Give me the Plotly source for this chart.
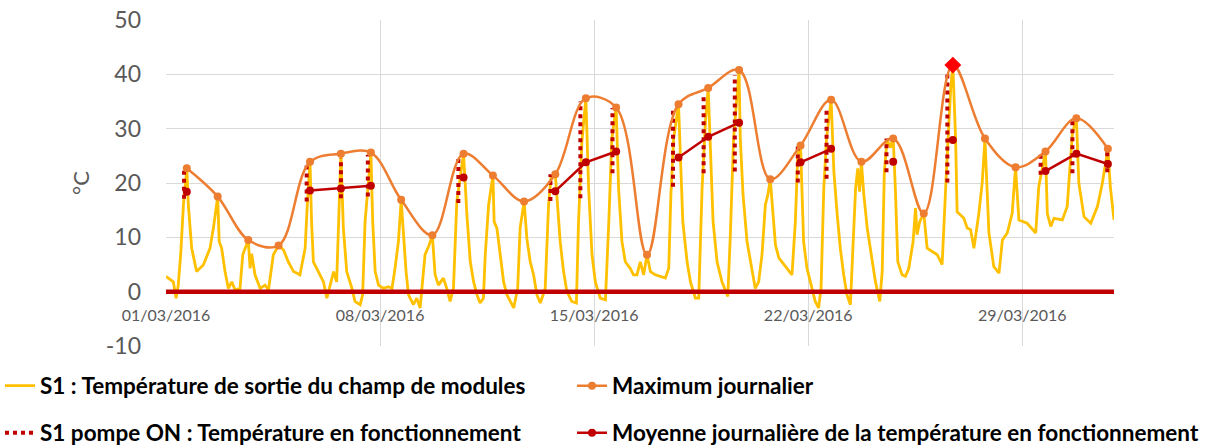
import pandas as pd
import plotly.graph_objects as go

START = pd.Timestamp("2016-03-01")
END = pd.Timestamp("2016-04-01")

# S1 outlet temperature (day offset from 01/03/2016 00:00, °C)
s1_day = [0.00, 0.24, 0.33, 0.40, 0.48, 0.57, 0.68, 0.73, 0.84, 1.00, 1.22, 1.44, 1.55, 1.69, 1.74,
          1.82, 1.93, 2.04, 2.15, 2.26, 2.42, 2.51, 2.69, 2.75, 2.80, 2.91, 3.08, 3.24, 3.35, 3.51,
          3.68, 3.84, 4.00, 4.17, 4.38, 4.55, 4.62, 4.71, 4.76, 4.82, 4.98, 5.15, 5.26,
          5.37, 5.48, 5.58, 5.64, 5.72, 5.80, 5.91, 6.08, 6.18, 6.35, 6.43, 6.51, 6.70, 6.76, 6.84,
          6.95, 7.11, 7.28, 7.39, 7.49, 7.60, 7.69, 7.77, 7.85, 7.93, 8.09, 8.20, 8.31, 8.47, 8.60,
          8.71, 8.80, 8.91, 9.07, 9.18, 9.29, 9.40, 9.51, 9.73, 9.84, 9.95, 10.06, 10.17, 10.27, 10.38,
          10.44, 10.55, 10.69, 10.73, 10.82, 10.93, 11.04, 11.15, 11.26, 11.37, 11.50, 11.58, 11.71,
          11.80, 11.91, 12.02, 12.13, 12.24, 12.40, 12.51, 12.59, 12.73, 12.78, 12.89, 13.00, 13.11,
          13.27, 13.42, 13.49, 13.60, 13.73, 13.82, 13.93, 14.04, 14.20, 14.37, 14.48, 14.58, 14.72,
          14.80, 14.91, 15.02, 15.18, 15.29, 15.40, 15.51, 15.62,
          15.73, 15.84, 16.00, 16.16, 16.33, 16.44, 16.51, 16.60, 16.76, 16.82, 16.90, 17.04, 17.15,
          17.31, 17.42, 17.53, 17.64, 17.73, 17.80, 17.89, 18.02, 18.18, 18.37, 18.45, 18.56, 18.74,
          18.78, 18.87, 19.00, 19.16, 19.27, 19.38, 19.49, 19.60, 19.68, 19.76, 19.82, 19.93, 20.04,
          20.20, 20.36, 20.47, 20.58, 20.66, 20.75,
          20.85, 20.96, 21.13, 21.23, 21.34, 21.42, 21.51, 21.60, 21.75, 21.84, 21.95, 22.05, 22.16,
          22.27, 22.38, 22.47, 22.55, 22.62, 22.68, 22.74, 22.82, 22.93, 23.06, 23.20, 23.34, 23.42,
          23.49, 23.58, 23.69, 23.78, 23.85, 23.93, 24.07, 24.18, 24.29, 24.43, 24.51, 24.56, 24.65,
          24.78, 24.89, 25.05, 25.22, 25.38, 25.44, 25.52, 25.66, 25.73, 25.82, 25.87, 25.98, 26.09,
          26.20, 26.31, 26.42, 26.58, 26.69, 26.78, 26.91, 27.07, 27.24, 27.35, 27.51, 27.67, 27.78,
          27.89, 28.16, 28.44, 28.54, 28.76, 28.82, 28.93, 29.04, 29.31, 29.47, 29.64, 29.77, 29.85,
          30.02, 30.24, 30.46, 30.62, 30.80, 30.88, 31.00]
s1_temp = [2.8, 1.8, -1.2, 1.2, 6.8, 16.0, 22.7, 16.0, 8.0, 3.7, 4.9, 8.0, 11.7, 17.5, 9.2,
           8.0, 3.7, 0.6, 1.8, 0.3, 0.6, 6.8, 9.5, 4.3, 7.0, 3.1, 0.6, 1.2, 0.3, 6.8,
           8.5, 7.7, 5.5, 3.7, 3.1, 8.0, 16.0, 23.9, 12.9, 5.5, 3.7, 1.8, -1.2,
           1.2, 3.7, 1.8, 11.7, 25.4, 11.7, 3.7, 0.6, -1.8, -2.4, -0.6, 12.9, 25.6, 12.9, 3.7,
           1.2, 0.6, 0.9, 0.6, 4.3, 9.2, 16.9, 9.2, 3.7, -0.6, -2.4, -1.2, -3.0, 6.8, 8.5,
           10.4, 3.1, 1.2, 2.5, 0.6, -1.8, 0.6, 16.6, 25.4, 14.1, 5.5, 1.8, -0.6, -2.1, -1.2,
           6.8, 16.0, 21.4, 12.9, 11.7, 6.8, 1.8, -0.6, -1.8, -3.0, 0.6, 11.7, 16.6,
           9.8, 5.5, 3.1, -0.6, -2.1, 0.6, 16.0, 21.0, 21.6, 17.8, 9.2, 3.7, 0.0,
           -1.8, -2.1, 12.9, 27.6, 35.6, 19.0, 6.8, 1.8, -1.2, -1.5, 12.9, 28.2, 33.9,
           19.0, 9.2, 5.5, 4.3, 3.1, 3.1, 5.5, 3.1,
           6.8, 3.7, 3.1, 2.8, 2.5, 4.3, 17.8, 28.2, 34.5, 25.2, 12.9, 5.5, 1.8,
           -1.2, -1.2, 19.0, 31.3, 37.5, 25.2, 12.9, 5.5, 1.8, -0.9, 9.8, 28.2, 40.8,
           28.2, 17.8, 9.2, 3.7, 0.6, 1.8, 6.8, 16.0, 17.8, 20.7, 16.0, 8.6, 6.2,
           5.0, 3.7, 3.1, 12.9, 25.2, 26.9,
           9.2, 4.3, 0.6, -1.8, -3.0, 0.6, 19.0, 28.2, 35.3, 22.1, 14.1, 8.0, 3.1,
           -0.6, -2.4, 10.4, 19.0, 22.7, 18.4, 23.9, 17.8, 11.7, 6.8, 1.8, -1.8, 3.7,
           22.1, 28.0, 26.5, 28.2, 19.0, 5.5, 3.1, 2.8, 4.3, 9.2, 15.4, 10.5, 12.9,
           14.4, 8.0, 7.4, 6.8, 5.0, 12.9, 22.1, 37.4, 41.7, 28.2, 14.7, 14.1, 13.5,
           11.7, 11.4, 8.0, 14.4, 20.0, 28.2, 10.8, 4.6, 3.4, 9.5, 10.8, 14.4, 22.9,
           13.2, 12.6, 10.8, 19.3, 25.8, 14.4, 12.0, 13.5, 13.2, 15.7, 29.2, 31.9, 20.0,
           13.8, 12.6, 15.7, 20.0, 26.3, 19.3, 13.2]

# Daily maximum and daily mean while the pump runs (one entry per day)
daily_day = [0.68, 1.69, 2.69, 3.68, 4.71, 5.72, 6.70, 7.69, 8.71, 9.73, 10.69, 11.71, 12.73,
             13.73, 14.72, 15.73, 16.76, 17.73, 18.74, 19.76, 20.75, 21.75, 22.74, 23.78, 24.78,
             25.73, 26.78, 27.78, 28.76, 29.77, 30.80]
daily_max = [22.7, 17.5, 9.5, 8.5, 23.9, 25.4, 25.6, 16.9, 10.4, 25.4, 21.4, 16.6, 21.6, 35.6,
             33.9, 6.8, 34.5, 37.5, 40.8, 20.7, 26.9, 35.3, 23.9, 28.2, 14.4, 41.7, 28.2, 22.9,
             25.8, 31.9, 26.3]
daily_mean_on = [18.4, None, None, None, 18.6, 19.0, 19.5, None, None, 21.0, None, None, 18.5,
                 23.8, 25.8, None, 24.7, 28.5, 31.1, None, 23.8, 26.3, None, 23.9, None, 27.9,
                 None, None, 22.2, 25.4, 23.5]

# Pump ON periods: time, lowest and highest S1 temperature recorded while running
pump_day = [0.59, 4.60, 5.72, 6.60, 9.56, 12.57, 13.55, 14.60, 16.58, 17.58, 18.60, 20.66,
            21.60, 23.56, 25.55, 28.60, 29.64, 30.78]
pump_low = [17.1, 16.6, 17.2, 17.5, 16.3, 16.7, 17.2, 21.8, 19.3, 21.8, 22.1, 20.1, 20.8, 22.0,
            20.1, 21.5, 21.8, 22.0]
pump_high = [22.7, 23.9, 24.6, 25.2, 24.9, 21.6, 35.0, 33.8, 33.8, 35.9, 39.9, 26.9, 33.8, 28.2,
             40.5, 25.8, 31.9, 26.1]
pump_off_level = [0, 0]

y_ticks = [-10, 0, 10, 20, 30, 40, 50]


def to_dt(days):
    return [START + pd.Timedelta(days=d) for d in days]


YELLOW = "#FFC000"
ORANGE = "#ED7D31"
DARKRED = "#C00000"
GREY = "#595959"
GRID = "#D9D9D9"
FONT = "Lato"

fig = go.Figure()

fig.add_trace(go.Scatter(
    x=to_dt(s1_day), y=s1_temp, mode="lines",
    line=dict(color=YELLOW, width=2.8),
    name="S1 : Température de sortie du champ de modules", legend="legend"))

# pump off -> recorded as 0 °C
fig.add_trace(go.Scatter(
    x=[START, END], y=pump_off_level, mode="lines",
    line=dict(color=DARKRED, width=4.5), showlegend=False, hoverinfo="skip"))

px_, py_ = [], []
for d, lo, hi in zip(pump_day, pump_low, pump_high):
    t = START + pd.Timedelta(days=d)
    px_ += [t, t, None]
    py_ += [lo, hi, None]
fig.add_trace(go.Scatter(
    x=px_, y=py_, mode="lines",
    line=dict(color=DARKRED, width=4, dash="dot"),
    name="S1 pompe ON : Température en fonctionnement", legend="legend2"))

fig.add_trace(go.Scatter(
    x=to_dt(daily_day), y=daily_max, mode="lines+markers",
    line=dict(color=ORANGE, width=2.5, shape="spline", smoothing=1.0),
    marker=dict(color=ORANGE, size=8),
    name="Maximum journalier", legend="legend3"))

fig.add_trace(go.Scatter(
    x=to_dt(daily_day), y=daily_mean_on, mode="lines+markers",
    line=dict(color=DARKRED, width=2.5), connectgaps=False,
    marker=dict(color=DARKRED, size=8),
    name="Moyenne journalière de la température en fonctionnement", legend="legend4"))

imax = max(range(len(daily_max)), key=lambda i: daily_max[i])
fig.add_trace(go.Scatter(
    x=to_dt([daily_day[imax]]), y=[daily_max[imax]], mode="markers",
    marker=dict(color="#FF0000", size=13, symbol="diamond"),
    showlegend=False))

legend_common = dict(
    orientation="h", xref="container", yref="container", xanchor="left", yanchor="middle",
    font=dict(family=FONT, size=22.5, color="#000000", weight="bold"),
    bgcolor="rgba(0,0,0,0)", itemwidth=30,
)
ROW1 = 1 - 386 / 448
ROW2 = 1 - 433 / 448
COL2 = 572 / 1215

fig.update_layout(
    width=1215, height=448,
    margin=dict(l=166, r=101, t=20, b=102, autoexpand=False),
    paper_bgcolor="white", plot_bgcolor="white",
    legend=dict(x=0, y=ROW1, **legend_common),
    legend2=dict(x=0, y=ROW2, **legend_common),
    legend3=dict(x=COL2, y=ROW1, **legend_common),
    legend4=dict(x=COL2, y=ROW2, **legend_common),
    xaxis=dict(
        range=[START, END], type="date",
        tick0=START, dtick=7 * 86400000, tickformat="%d/%m/%Y",
        showgrid=True, gridcolor=GRID, gridwidth=1, zeroline=False, showline=False,
        tickfont=dict(family=FONT, size=16, color=GREY),
        anchor="free", position=10 / 60, ticks="", ticklabelstandoff=12,
    ),
    yaxis=dict(
        range=[-10, 50], tickvals=y_ticks, ticktext=[str(v) for v in y_ticks],
        showgrid=True, gridcolor=GRID, gridwidth=1, zeroline=False, showline=False,
        tickfont=dict(family=FONT, size=23, color=GREY),
        title=dict(text="°C", font=dict(family=FONT, size=22, color=GREY), standoff=10),
        ticks="", ticklabelstandoff=24,
    ),
)

fig.write_html("out.html")
